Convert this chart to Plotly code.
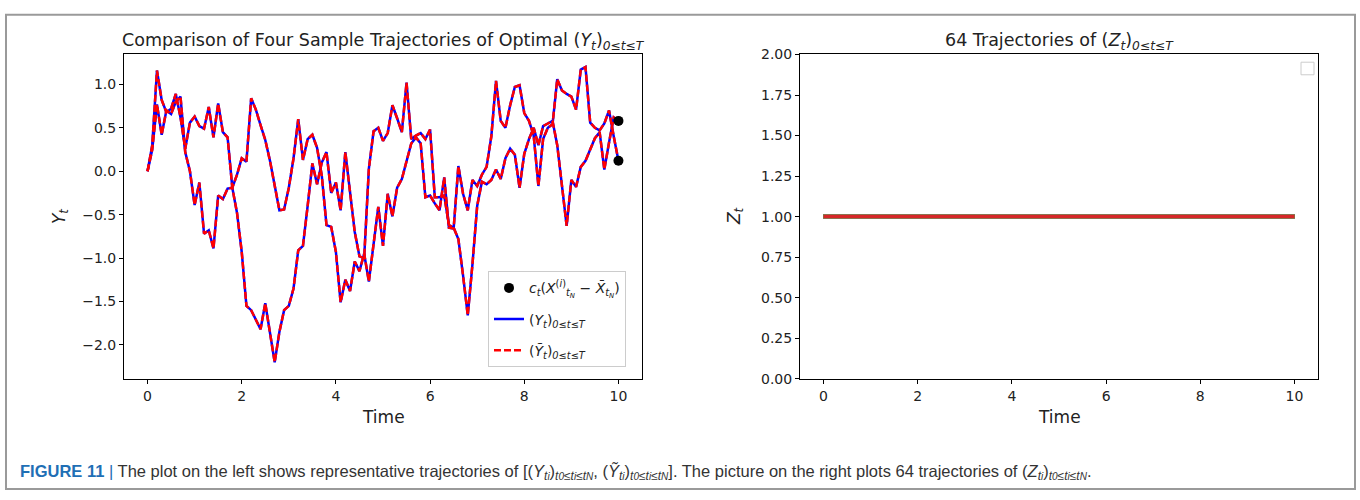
import plotly.graph_objects as go

W, H = 1360, 500

# time grid, dt = 0.1 on [0, 10]
time = [i / 10 for i in range(101)]

# two sample trajectories of Y (the approximation Y~ coincides with them)
path_a = [0.00, 0.30, 1.16, 0.82, 0.68, 0.72, 0.89, 0.62, 0.26, 0.56,
          0.63, 0.52, 0.49, 0.74, 0.39, 0.78, 0.45, 0.39, -0.19, -0.48,
          -0.93, -1.55, -1.60, -1.72, -1.82, -1.52, -1.85, -2.20, -1.85, -1.60,
          -1.55, -1.35, -0.91, -0.86, -0.40, 0.09, -0.15, 0.10, 0.22, -0.25,
          -0.13, -0.45, 0.22, -0.26, -0.70, -0.98, -1.00, 0.03, 0.46, 0.50,
          0.35, 0.44, 0.76, 0.61, 0.45, 1.02, 0.37, 0.41, 0.44, 0.37,
          0.48, -0.30, -0.30, -0.28, -0.62, -0.65, -0.78, -1.20, -1.66, -1.07,
          -0.40, -0.12, -0.15, -0.10, 0.02, -0.09, 0.15, 0.26, 0.19, -0.19,
          0.20, 0.37, 0.50, 0.30, 0.52, 0.55, 0.58, 0.30, -0.20, -0.63,
          -0.10, -0.18, 0.05, 0.12, 0.25, 0.38, 0.45, 0.02, 0.33, 0.62,
          0.58]
path_b = [0.00, 0.25, 0.77, 0.42, 0.70, 0.66, 0.80, 0.86, 0.22, 0.00,
          -0.39, -0.13, -0.72, -0.68, -0.89, -0.28, -0.32, -0.20, -0.19, -0.04,
          0.15, 0.11, 0.84, 0.71, 0.53, 0.36, 0.12, -0.18, -0.45, -0.44,
          -0.19, 0.15, 0.60, 0.13, 0.37, 0.42, 0.27, -0.05, -0.62, -0.64,
          -0.93, -1.51, -1.25, -1.38, -1.04, -1.15, -0.95, -1.27, -0.82, -0.41,
          -0.86, -0.26, -0.52, -0.19, -0.09, 0.11, 0.32, 0.39, 0.32, -0.30,
          -0.28, -0.37, -0.45, -0.07, -0.65, -0.66, 0.06, -0.26, -0.45, -0.10,
          -0.17, -0.04, 0.05, 0.40, 1.04, 0.58, 0.50, 0.76, 0.97, 0.99,
          0.67, 0.58, 0.41, -0.17, 0.37, 0.50, 0.54, 1.06, 0.93, 0.89,
          0.86, 0.71, 1.17, 1.20, 0.56, 0.50, 0.47, 0.55, 0.70, 0.40,
          0.12]

# terminal condition c_t (X^(i)_{t_N} - Xbar_{t_N})
terminal_time = [10.0, 10.0]
terminal_values = [0.58, 0.12]

# 64 trajectories of Z, all constant at 1
n_z = 64
z_value = 1.0

tab10 = ["#1f77b4", "#ff7f0e", "#2ca02c", "#d62728", "#9467bd",
         "#8c564b", "#e377c2", "#7f7f7f", "#bcbd22", "#17becf"]

left_ticks = [-2.0, -1.5, -1.0, -0.5, 0.0, 0.5, 1.0]
left_ticktext = ["\u22122.0", "\u22121.5", "\u22121.0", "\u22120.5", "0.0", "0.5", "1.0"]
right_ticks = [0, 0.25, 0.5, 0.75, 1.0, 1.25, 1.5, 1.75, 2.0]
right_ticktext = ["0.00", "0.25", "0.50", "0.75", "1.00", "1.25", "1.50", "1.75", "2.00"]
x_ticks = [0, 2, 4, 6, 8, 10]

FONT = "DejaVu Sans"
CAPFONT = "Liberation Sans Narrow, Liberation Sans, Arial"
INK = "#222222"

fig = go.Figure()

name_y = "(<i>Y<sub>t</sub></i>)<sub><i>0\u2264t\u2264T</i></sub>"
name_yt = "(<i>\u1ef8<sub>t</sub></i>)<sub><i>0\u2264t\u2264T</i></sub>"
name_c = "<i>c<sub>t</sub></i>(<i>X</i><sup>(<i>i</i>)</sup><sub><i>t<sub>N</sub></i></sub> \u2212 <i>X\u0304</i><sub><i>t<sub>N</sub></i></sub>)"

for k, path in enumerate([path_a, path_b]):
    fig.add_trace(go.Scatter(
        x=time, y=path, mode="lines", xaxis="x", yaxis="y",
        line=dict(color="#0000ff", width=2.5),
        name=name_y, legendgroup="y", showlegend=(k == 0), legendrank=2,
        legend="legend"))
for k, path in enumerate([path_a, path_b]):
    fig.add_trace(go.Scatter(
        x=time, y=path, mode="lines", xaxis="x", yaxis="y",
        line=dict(color="#ff0000", width=2.5, dash="7px,3px"),
        name=name_yt, legendgroup="yt", showlegend=(k == 0), legendrank=3,
        legend="legend"))
fig.add_trace(go.Scatter(
    x=terminal_time, y=terminal_values, mode="markers", xaxis="x", yaxis="y",
    marker=dict(color="black", size=10), legendgroup="c",
    name=name_c, legendrank=1, legend="legend"))

for j in range(n_z):
    fig.add_trace(go.Scatter(
        x=time, y=[z_value] * len(time), mode="lines", xaxis="x2", yaxis="y2",
        line=dict(color=tab10[j % 10], width=3.5), showlegend=False))

axis_common = dict(
    showline=True, mirror=True, linecolor="black", linewidth=1,
    ticks="outside", ticklen=4, tickcolor="black", showgrid=False,
    zeroline=False, tickfont=dict(family=FONT, size=14, color=INK),
)

x_dom_l = [124 / W, 642 / W]
x_dom_r = [800 / W, 1318 / W]
y_dom = [1 - 383 / H, 1 - 48 / H]

fig.update_layout(
    width=W, height=H,
    margin=dict(l=0, r=0, t=0, b=0),
    paper_bgcolor="white", plot_bgcolor="white",
    font=dict(family=FONT, color=INK),
    xaxis=dict(domain=x_dom_l, range=[-0.5, 10.5], tickvals=x_ticks,
               anchor="y", **axis_common),
    yaxis=dict(domain=y_dom, range=[-2.39, 1.345], tickvals=left_ticks,
               ticktext=left_ticktext, anchor="x", **axis_common),
    xaxis2=dict(domain=x_dom_r, range=[-0.5, 10.5], tickvals=x_ticks,
                anchor="y2", **axis_common),
    yaxis2=dict(domain=y_dom, range=[0, 2], tickvals=right_ticks,
                ticktext=right_ticktext, anchor="x2", **axis_common),
    legend=dict(x=488 / W, y=1 - 272 / H, xanchor="left", yanchor="top",
                bgcolor="white", bordercolor="#cccccc", borderwidth=1,
                font=dict(family=FONT, size=14, color=INK),
                itemwidth=30, tracegroupgap=10),
    showlegend=True,
)

# caption: subscripts kept at one level, inner indices slightly smaller
small = "<span style='font-size:10px'>{}</span>"
idx_range = ("<sub><span style='font-size:12px'><i>t" + small.format("0")
             + "\u2264t" + small.format("i") + "\u2264t" + small.format("N")
             + "</i></span></sub>")
var_ti = "<i>{}<sub><span style='font-size:12px'>t" + small.format("i") + "</span></sub></i>"

caption = ("<span style='color:#1f6fb5'><b>FIGURE 11</b> | </span>"
           "The plot on the left shows representative trajectories of "
           "[(" + var_ti.format("Y") + ")" + idx_range + ", "
           "(" + var_ti.format("\u1ef8") + ")" + idx_range + "]. "
           "The picture on the right plots 64 trajectories of "
           "(" + var_ti.format("Z") + ")" + idx_range + ".")

annotations = [
    dict(text="Comparison of Four Sample Trajectories of Optimal (<i>Y<sub>t</sub></i>)<sub><i>0\u2264t\u2264T</i></sub>",
         x=(x_dom_l[0] + x_dom_l[1]) / 2, y=1 - 35 / H, font=dict(size=17.5)),
    dict(text="64 Trajectories of (<i>Z<sub>t</sub></i>)<sub><i>0\u2264t\u2264T</i></sub>",
         x=(x_dom_r[0] + x_dom_r[1]) / 2, y=1 - 35 / H, font=dict(size=17.5)),
    dict(text="Time", x=(x_dom_l[0] + x_dom_l[1]) / 2, y=1 - 423 / H, font=dict(size=17)),
    dict(text="Time", x=(x_dom_r[0] + x_dom_r[1]) / 2, y=1 - 423 / H, font=dict(size=17)),
    dict(text="<i>Y<sub>t</sub></i>", x=60 / W, y=1 - 215 / H, textangle=-90, font=dict(size=17)),
    dict(text="<i>Z<sub>t</sub></i>", x=735 / W, y=1 - 215 / H, textangle=-90, font=dict(size=17)),
    dict(text=caption, x=18 / W, y=1 - 479 / H, xanchor="left",
         font=dict(family=CAPFONT, size=16.5, color="#333333")),
]
for a in annotations:
    a.setdefault("xref", "paper")
    a.setdefault("yref", "paper")
    a.setdefault("showarrow", False)
    a.setdefault("xanchor", "center")
    a.setdefault("yanchor", "middle")
fig.update_layout(annotations=annotations)

# outer figure frame and the empty legend box of the right panel
fig.update_layout(shapes=[
    dict(type="rect", xref="paper", yref="paper",
         x0=6 / W, x1=1355 / W, y0=1 - 497 / H, y1=1 - 7 / H,
         line=dict(color="#9a9a9a", width=2), fillcolor="rgba(0,0,0,0)"),
    dict(type="rect", xref="paper", yref="paper",
         x0=1301 / W, x1=1314 / W, y0=1 - 69 / H, y1=1 - 56 / H,
         line=dict(color="#cccccc", width=1), fillcolor="white"),
])

fig.write_html("out.html")
